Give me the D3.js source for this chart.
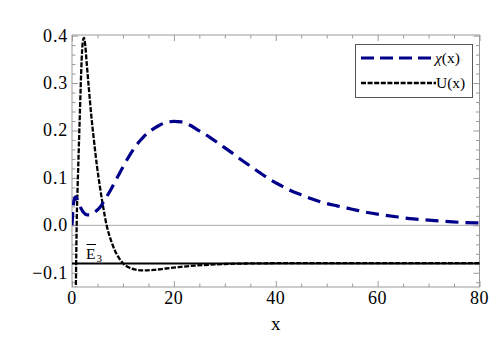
<!DOCTYPE html>
<html><head><meta charset="utf-8">
<script src="https://cdn.jsdelivr.net/npm/d3@7"></script>
<style>
body{margin:0;background:#fff;}
svg{display:block;}
</style></head>
<body><div id="chart"></div>
<script>
// ---- data ----
const chiX = [0,0.2,0.45,0.7,1.0,1.5,2.2,3.0,3.6,4.5,5.5,6.5,7.5,8.5,9.5,11,12.5,14,15.5,17,18.5,20,21.5,23,25,27,29,31,33,35,37,39,41,43,45,47,49,52,55,58,61,64,67,70,73,76,80];
const chiY = [0.0,0.035,0.055,0.06,0.055,0.042,0.028,0.022,0.022,0.028,0.038,0.055,0.073,0.093,0.113,0.142,0.167,0.186,0.200,0.210,0.217,0.219,0.218,0.212,0.199,0.186,0.171,0.156,0.140,0.125,0.110,0.096,0.084,0.073,0.0645,0.056,0.049,0.041,0.034,0.027,0.022,0.0175,0.0135,0.011,0.0085,0.0065,0.005];
const uX = [0.75,0.85,0.95,1.1,1.3,1.5,1.7,1.9,2.1,2.35,2.6,2.9,3.3,3.8,4.3,4.9,5.5,6.1,6.8,7.6,8.5,9.3,10.0,11.0,12.3,14.0,16.0,18.5,21,24,27,30,34,40,50,65,80];
const uY = [-0.14,-0.05,0.02,0.08,0.15,0.22,0.29,0.35,0.385,0.395,0.38,0.34,0.29,0.23,0.18,0.125,0.08,0.04,0.0,-0.03,-0.055,-0.07,-0.08,-0.088,-0.093,-0.095,-0.094,-0.091,-0.088,-0.085,-0.083,-0.0815,-0.0805,-0.0798,-0.0795,-0.0795,-0.0795];
const E3 = -0.0805;
const xTicks = [0,20,40,60,80];
const xMinor = [5,10,15,25,30,35,45,50,55,65,70,75];
const yTicks = [-0.1,0.0,0.1,0.2,0.3,0.4];
const yMinor = [-0.12,-0.08,-0.06,-0.04,-0.02,0.02,0.04,0.06,0.08,0.12,0.14,0.16,0.18,0.22,0.24,0.26,0.28,0.32,0.34,0.36,0.38];
const legendLabels = ["χ(x)","U(x)"];

const FONT = "'Liberation Serif', 'Times New Roman', 'DejaVu Serif', serif";
const W = 491, H = 342;
const L = 72, R = 479.5, T = 35, B = 287;
const svg = d3.select("#chart").append("svg").attr("width",W).attr("height",H)
  .attr("font-family",FONT);

const x = d3.scaleLinear().domain([0,80]).range([L,R]);
const y = d3.scaleLinear().domain([-0.13,0.4013]).range([B,T]);

svg.append("clipPath").attr("id","clip").append("rect")
  .attr("x",L).attr("y",T).attr("width",R-L).attr("height",B-T);

// zero axis line
svg.append("line").attr("x1",L).attr("x2",R).attr("y1",y(0)).attr("y2",y(0))
  .attr("stroke","#aaa").attr("stroke-width",1);

const frameCol = "#999";
function addAxis(axisFn, scale, vals, len, transform){
  const g = svg.append("g").attr("transform",transform)
    .call(axisFn(scale).tickValues(vals).tickSize(len).tickFormat(""));
  g.select(".domain").remove();
  g.selectAll("line").attr("stroke",frameCol).attr("stroke-width",1);
}
addAxis(d3.axisTop, x, xTicks, 6, `translate(0,${B})`);
addAxis(d3.axisTop, x, xMinor, 3.5, `translate(0,${B})`);
addAxis(d3.axisBottom, x, xTicks, 6, `translate(0,${T})`);
addAxis(d3.axisBottom, x, xMinor, 3.5, `translate(0,${T})`);
addAxis(d3.axisRight, y, yTicks, 6, `translate(${L},0)`);
addAxis(d3.axisRight, y, yMinor, 3.5, `translate(${L},0)`);
addAxis(d3.axisLeft, y, yTicks, 6, `translate(${R},0)`);
addAxis(d3.axisLeft, y, yMinor, 3.5, `translate(${R},0)`);

svg.append("rect").attr("x",L).attr("y",T).attr("width",R-L).attr("height",B-T)
  .attr("fill","none").attr("stroke",frameCol).attr("stroke-width",1);

// tick labels
svg.selectAll(".xl").data(xTicks).enter().append("text")
  .attr("font-family",FONT)
  .attr("x",d=>x(d)).attr("y",304).attr("text-anchor","middle")
  .attr("font-size",18).attr("letter-spacing",0.6).text(d=>d);
svg.selectAll(".yl").data(yTicks).enter().append("text")
  .attr("font-family",FONT)
  .attr("x",68).attr("y",d=>y(d)+6).attr("text-anchor","end")
  .attr("font-size",18).attr("letter-spacing",0.8)
  .text(d=>d3.format(".1f")(d).replace("-","\u2212"));
svg.append("text").attr("font-family",FONT).attr("x",x(40)).attr("y",330).attr("text-anchor","middle")
  .attr("font-size",19).text("x");

// E3 line
svg.append("line").attr("x1",x(0)).attr("x2",x(80)).attr("y1",y(E3)).attr("y2",y(E3))
  .attr("stroke","#000").attr("stroke-width",2);

const line = d3.line().curve(d3.curveMonotoneX).x(d=>x(d[0])).y(d=>y(d[1]));
const plot = svg.append("g").attr("clip-path","url(#clip)");
plot.append("path").datum(uX.map((v,i)=>[v,uY[i]])).attr("d",line)
  .attr("fill","none").attr("stroke","#000").attr("stroke-width",2.3)
  .attr("stroke-dasharray","5,1.6");
plot.append("path").datum(chiX.map((v,i)=>[v,chiY[i]])).attr("d",line)
  .attr("fill","none").attr("stroke","#00008b").attr("stroke-width",3.2)
  .attr("stroke-dasharray","13,7");

// E3 label
const lab = svg.append("text").attr("font-family",FONT).attr("x",86).attr("y",258.5).attr("font-size",15.5);
lab.append("tspan").text("E");
lab.append("tspan").attr("font-size",11).attr("dy",3).attr("dx",1).text("3");
svg.append("line").attr("x1",86.5).attr("x2",96).attr("y1",244.5).attr("y2",244.5)
  .attr("stroke","#000").attr("stroke-width",1);

// legend
const lg = svg.append("g");
lg.append("rect").attr("x",355.5).attr("y",44.5).attr("width",117).attr("height",53)
  .attr("fill","#fff").attr("stroke","#555").attr("stroke-width",1);
lg.append("line").attr("x1",361).attr("x2",431).attr("y1",58).attr("y2",58)
  .attr("stroke","#00008b").attr("stroke-width",3.2).attr("stroke-dasharray","13,6");
lg.append("line").attr("x1",361).attr("x2",436).attr("y1",83).attr("y2",83)
  .attr("stroke","#000").attr("stroke-width",2.3).attr("stroke-dasharray","5,1.6");
const t1 = lg.append("text").attr("font-family",FONT).attr("x",435).attr("y",63).attr("font-size",15.5);
t1.append("tspan").attr("font-style","italic").text(legendLabels[0].slice(0,1));
t1.append("tspan").text(legendLabels[0].slice(1));
lg.append("text").attr("font-family",FONT).attr("x",436).attr("y",88).attr("font-size",15.5).text(legendLabels[1]);
</script></body></html>
